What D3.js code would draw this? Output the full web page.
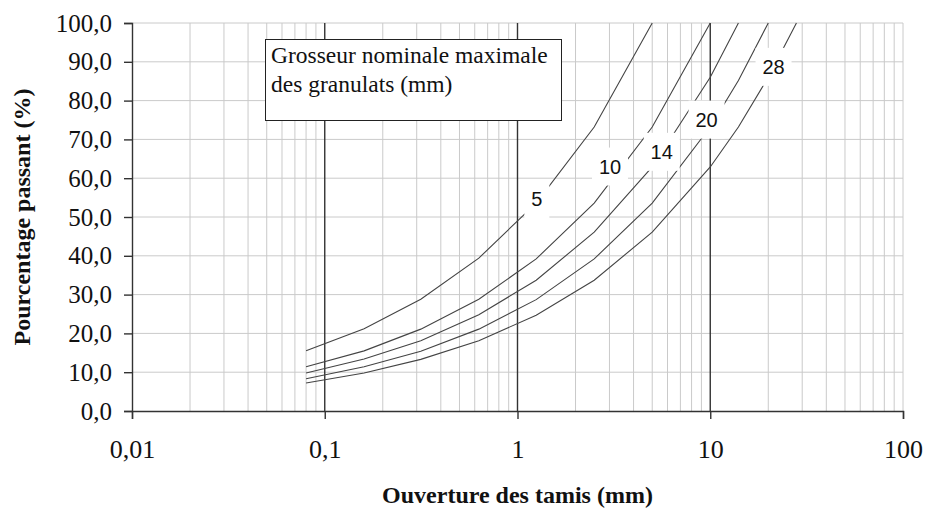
<!DOCTYPE html>
<html>
<head>
<meta charset="utf-8">
<script src="https://cdn.jsdelivr.net/npm/d3@7"></script>
<style>
  html, body { margin: 0; padding: 0; background: #fff; }
  svg { display: block; }
</style>
</head>
<body>
<div id="chart"></div>
<script>
// Sieve openings (mm) at which the grading curves are defined
const sieves = [0.08, 0.16, 0.315, 0.63, 1.25, 2.5, 5, 10, 14, 20, 28];

// Percentage passing for each nominal maximum aggregate size
const pass5  = [15.5, 21.2, 28.8, 39.4, 53.6, 73.2, 100];
const pass10 = [11.4, 15.5, 21.1, 28.8, 39.2, 53.6, 73.2, 100];
const pass14 = [9.8, 13.4, 18.1, 24.8, 33.7, 46.1, 62.9, 86.0, 100];
const pass20 = [8.3, 11.4, 15.4, 21.1, 28.7, 39.2, 53.6, 73.2, 85.2, 100];
const pass28 = [7.2, 9.8, 13.3, 18.1, 24.7, 33.7, 46.1, 62.9, 73.2, 86.0, 100];

const seriesNames = ["5", "10", "14", "20", "28"];
const seriesValues = [pass5, pass10, pass14, pass20, pass28];

// Where each curve's size label sits (sieve opening, % passing)
const labelSieve = [1.26, 3.02, 5.6, 9.57, 21.3];
const labelPct   = [54.6, 63.0, 66.8, 75.1, 88.7];

const yTicks = [0, 10, 20, 30, 40, 50, 60, 70, 80, 90, 100];
const xTicks = [0.01, 0.1, 1, 10, 100];
const xTickLabels = ["0,01", "0,1", "1", "10", "100"];

const W = 925, H = 508;
const svg = d3.select("#chart").append("svg")
  .attr("width", W).attr("height", H)
  .style("background", "#fff");

const x = d3.scaleLog().domain([0.01, 100]).range([132, 903]);
const y = d3.scaleLinear().domain([0, 100]).range([411, 23]);

const serif = "'Liberation Serif', 'Times New Roman', serif";
const sans = "'Liberation Sans', Arial, sans-serif";

// Light grid: horizontal every 10 %, vertical at 2..9 of every decade
const grid = svg.append("g");
grid.selectAll("line.h").data(yTicks.filter(v => v > 0)).join("line")
  .attr("x1", x(0.01)).attr("x2", x(100))
  .attr("y1", d => y(d)).attr("y2", d => y(d))
  .attr("stroke", "#cacaca").attr("stroke-width", 1);

const minor = [];
[0.01, 0.1, 1, 10].forEach(dec => { for (let k = 2; k <= 9; k++) minor.push(dec * k); });
minor.push(100);
grid.selectAll("line.v").data(minor).join("line")
  .attr("x1", d => x(d)).attr("x2", d => x(d))
  .attr("y1", y(0)).attr("y2", y(100))
  .attr("stroke", "#cacaca").attr("stroke-width", 1);

// Dark decade lines
grid.selectAll("line.major").data([0.1, 1, 10]).join("line")
  .attr("x1", d => x(d)).attr("x2", d => x(d))
  .attr("y1", y(0)).attr("y2", y(100))
  .attr("stroke", "#333").attr("stroke-width", 1.4);

// Axes
const yAxis = d3.axisLeft(y).tickValues(yTicks).tickSize(8).tickPadding(12)
  .tickFormat(d => d3.format(".1f")(d).replace(".", ","));
const gy = svg.append("g").attr("transform", `translate(${x(0.01)},0)`).call(yAxis);
gy.select(".domain").attr("stroke", "#333").attr("stroke-width", 1.4);
gy.selectAll(".tick line").attr("stroke", "#333").attr("stroke-width", 1.4);
gy.selectAll(".tick text").attr("font-family", serif).attr("font-size", 25).attr("fill", "#111");

const xAxis = d3.axisBottom(x).tickValues(xTicks).tickSize(8).tickPadding(21)
  .tickFormat((d, i) => xTickLabels[i]);
const gx = svg.append("g").attr("transform", `translate(0,${y(0)})`).call(xAxis);
gx.select(".domain").attr("stroke", "#333").attr("stroke-width", 1.4);
gx.selectAll(".tick line").attr("stroke", "#333").attr("stroke-width", 1.4);
gx.selectAll(".tick text").attr("font-family", serif).attr("font-size", 26).attr("fill", "#111");

// Grading curves
const line = d3.line().x(d => x(d[0])).y(d => y(d[1]));
svg.append("g").selectAll("path").data(seriesValues).join("path")
  .attr("d", vals => line(vals.map((v, i) => [sieves[i], v])))
  .attr("fill", "none").attr("stroke", "#444").attr("stroke-width", 1.1);

// Size labels on white boxes
const lab = svg.append("g").selectAll("g").data(seriesNames).join("g")
  .attr("transform", (d, i) => `translate(${x(labelSieve[i])},${y(labelPct[i])})`);
lab.append("rect")
  .attr("x", d => -(d.length * 11 + 14) / 2).attr("y", -19)
  .attr("width", d => d.length * 11 + 14).attr("height", 38)
  .attr("fill", "#fff");
lab.append("text")
  .attr("text-anchor", "middle").attr("dy", "0.36em")
  .attr("font-family", sans).attr("font-size", 20).attr("fill", "#111")
  .text(d => d);

// Legend title box
const lg = svg.append("g");
lg.append("rect").attr("x", 265.5).attr("y", 39.5).attr("width", 296).attr("height", 81)
  .attr("fill", "#fff").attr("stroke", "#222").attr("stroke-width", 1);
lg.append("text").attr("x", 271).attr("y", 63)
  .attr("font-family", serif).attr("font-size", 23.5).attr("fill", "#111")
  .text("Grosseur nominale maximale");
lg.append("text").attr("x", 271).attr("y", 92)
  .attr("font-family", serif).attr("font-size", 23.5).attr("fill", "#111")
  .text("des granulats (mm)");

// Axis titles
svg.append("text").attr("x", (x(0.01) + x(100)) / 2).attr("y", 503)
  .attr("text-anchor", "middle").attr("font-family", serif).attr("font-weight", "bold")
  .attr("font-size", 24).attr("fill", "#111")
  .text("Ouverture des tamis (mm)");
svg.append("text")
  .attr("transform", `translate(30,${(y(0) + y(100)) / 2}) rotate(-90)`)
  .attr("text-anchor", "middle").attr("font-family", serif).attr("font-weight", "bold")
  .attr("font-size", 24).attr("fill", "#111")
  .text("Pourcentage passant (%)");
</script>
</body>
</html>
